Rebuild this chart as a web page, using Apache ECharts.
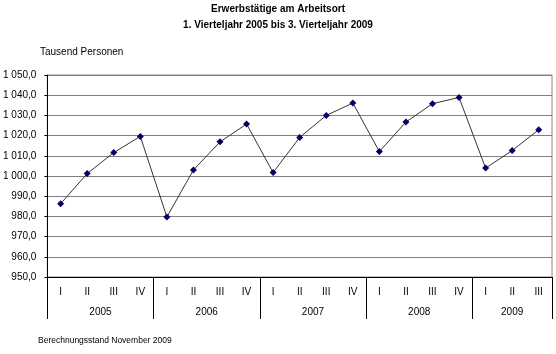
<!DOCTYPE html>
<html>
<head>
<meta charset="utf-8">
<script src="https://cdn.jsdelivr.net/npm/echarts@6/dist/echarts.min.js"></script>
<style>
  html, body { margin: 0; padding: 0; background: #fff; }
  #chart { width: 556px; height: 354px; }
</style>
</head>
<body>
<div id="chart"></div>
<script>
// Quartale 1/2005 .. 3/2009
const quarters = ["I", "II", "III", "IV", "I", "II", "III", "IV", "I", "II", "III", "IV",
  "I", "II", "III", "IV", "I", "II", "III"];
const values = [986.3, 1001.2, 1011.6, 1019.6, 979.7, 1003.0, 1016.9, 1025.7,
  1001.7, 1019.1, 1030.0, 1036.1, 1012.1, 1026.7, 1035.8, 1038.9,
  1003.9, 1012.6, 1022.9];
const years = ["2005", "2006", "2007", "2008", "2009"];
const yearBounds = [0, 4, 8, 12, 16, 19];
const yearCenters = [2, 6, 10, 14, 17.5];

const font = "Arial, 'Liberation Sans', sans-serif";

function fmt(v) {
  const s = v.toFixed(1).replace(".", ",");
  const parts = s.split(",");
  const int = parts[0].replace(/\B(?=(\d{3})+(?!\d))/g, " ");
  return int + "," + parts[1];
}

const titleStyle = { fontFamily: font, fontSize: 10, fontWeight: "bold", color: "#000" };

const chart = echarts.init(document.getElementById("chart"));
chart.setOption({
  animation: false,
  title: [
    { text: "Erwerbstätige am Arbeitsort", left: "center", top: 4, padding: 0, textStyle: titleStyle },
    { text: "1. Vierteljahr 2005 bis 3. Vierteljahr 2009", left: "center", top: 20, padding: 0, textStyle: titleStyle },
    {
      text: "Tausend Personen",
      left: 40,
      top: 47,
      padding: 0,
      textStyle: { fontFamily: font, fontSize: 10, fontWeight: "normal", color: "#000" }
    },
    {
      text: "Berechnungsstand November 2009",
      left: 38,
      top: 336,
      padding: 0,
      textStyle: { fontFamily: font, fontSize: 8.5, fontWeight: "normal", color: "#000" }
    }
  ],
  grid: {
    left: 47, right: 4, top: 75, bottom: 77,
    show: true, borderColor: "#888", borderWidth: 1
  },
  xAxis: [
    {
      type: "category",
      data: quarters,
      boundaryGap: true,
      axisLine: { lineStyle: { color: "#000", width: 1 } },
      axisTick: { length: 21, interval: 0, lineStyle: { color: "#000" } },
      axisLabel: { interval: 0, margin: 10, fontFamily: font, fontSize: 10, color: "#000" },
      splitLine: { show: false }
    },
    {
      type: "value",
      position: "bottom",
      min: 0,
      max: 19,
      axisLine: { show: false },
      axisTick: { show: true, length: 42, customValues: yearBounds, lineStyle: { color: "#000" } },
      axisLabel: {
        customValues: yearCenters,
        margin: 30,
        fontFamily: font, fontSize: 10, color: "#000",
        formatter: function (v) { return years[yearCenters.indexOf(v)]; }
      },
      splitLine: { show: false }
    }
  ],
  yAxis: {
    type: "value",
    min: 950,
    max: 1050,
    interval: 10,
    axisLine: { show: true, lineStyle: { color: "#000" } },
    axisTick: { show: true, length: 3, lineStyle: { color: "#000" } },
    axisLabel: { margin: 11, fontFamily: font, fontSize: 10, color: "#000", formatter: fmt },
    splitLine: { lineStyle: { color: "#7f7f7f", width: 1 } }
  },
  series: [
    {
      type: "line",
      xAxisIndex: 0,
      data: values,
      symbol: "diamond",
      symbolSize: 7,
      lineStyle: { color: "#333", width: 1 },
      itemStyle: { color: "#000066" }
    }
  ]
});
</script>
</body>
</html>
